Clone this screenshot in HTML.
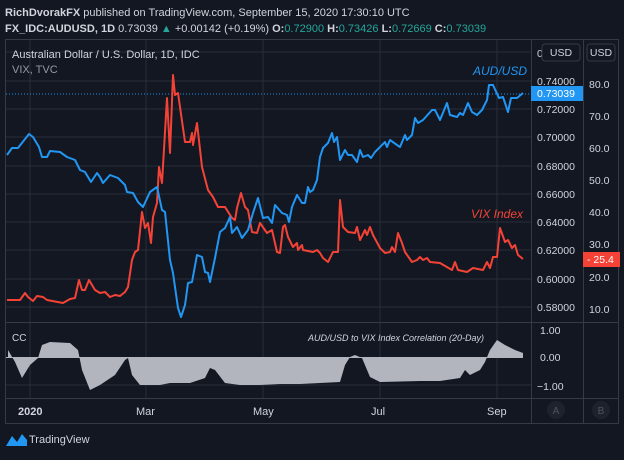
<!DOCTYPE html><html><head><style>
body{margin:0;background:#131722;width:624px;height:455px;overflow:hidden;font-family:"Liberation Sans",sans-serif}
</style></head><body>
<svg width="624" height="455" xmlns="http://www.w3.org/2000/svg" font-family="Liberation Sans, sans-serif">
<rect width="624" height="455" fill="#131722"/>
<text x="5" y="16" font-size="11" fill="#d1d4dc"><tspan font-weight="bold">RichDvorakFX</tspan> published on TradingView.com, September 15, 2020 17:30:10 UTC</text>
<text x="5" y="32" font-size="11" fill="#d1d4dc"><tspan font-weight="bold">FX_IDC:AUDUSD, 1D</tspan> 0.73039 <tspan fill="#26a69a">▲</tspan> +0.00142 (+0.19%) <tspan font-weight="bold">O:</tspan><tspan fill="#26a69a">0.72900</tspan> <tspan font-weight="bold">H:</tspan><tspan fill="#26a69a">0.73426</tspan> <tspan font-weight="bold">L:</tspan><tspan fill="#26a69a">0.72669</tspan> <tspan font-weight="bold">C:</tspan><tspan fill="#26a69a">0.73039</tspan></text>
<rect x="5.5" y="39.5" width="613" height="384" fill="none" stroke="#363a45"/>
<g stroke="#2a2e39" stroke-width="1">
<line x1="30" y1="40" x2="30" y2="398"/><line x1="146" y1="40" x2="146" y2="398"/><line x1="263" y1="40" x2="263" y2="398"/><line x1="380" y1="40" x2="380" y2="398"/><line x1="497" y1="40" x2="497" y2="398"/>
<line x1="6" y1="81" x2="531" y2="81"/><line x1="6" y1="109" x2="531" y2="109"/><line x1="6" y1="137" x2="531" y2="137"/><line x1="6" y1="166" x2="531" y2="166"/><line x1="6" y1="194" x2="531" y2="194"/><line x1="6" y1="222" x2="531" y2="222"/><line x1="6" y1="250" x2="531" y2="250"/><line x1="6" y1="279" x2="531" y2="279"/><line x1="6" y1="307" x2="531" y2="307"/><line x1="6" y1="52" x2="531" y2="52"/>
<line x1="6" y1="385" x2="531" y2="385"/>
</g>
<line x1="531.5" y1="40" x2="531.5" y2="423" stroke="#363a45"/>
<line x1="583.5" y1="40" x2="583.5" y2="423" stroke="#363a45"/>
<line x1="6" y1="322.5" x2="618" y2="322.5" stroke="#363a45"/>
<line x1="6" y1="398.5" x2="618" y2="398.5" stroke="#363a45"/>
<text x="12" y="58" font-size="11" fill="#d1d4dc">Australian Dollar / U.S. Dollar, 1D, IDC</text>
<text x="12" y="73" font-size="11" fill="#9598a1">VIX, TVC</text>
<line x1="6" y1="94" x2="531" y2="94" stroke="#2196f3" stroke-dasharray="1,2"/>
<polyline fill="none" stroke="#f44336" stroke-width="2" stroke-linejoin="round" points="7,300 20,300 25,293 28,297 33,301 37,296 43,297 47,300 63,303 70,299 75,298 79,280 82,290 85,290 89,280 95,290 100,293 105,292 110,297 115,295 120,296 125,292 128,287 132,260 135,252 138,250 142,212 145,228 148,223 151,243 153,217 157,203 159,167 162,183 167,98 170,153 173,75 175,95 178,93 185,142 190,142 192,133 193,145 197,123 202,167 208,190 213,197 218,207 225,207 232,218 235,220 237,208 241,193 245,207 248,210 252,232 257,233 260,223 267,233 272,230 277,252 280,253 283,227 285,225 288,237 293,247 297,243 298,250 302,245 303,250 313,252 317,250 320,253 323,258 328,262 333,252 338,252 340,200 343,227 348,232 355,233 357,227 360,240 365,230 367,235 370,227 373,235 380,248 385,253 390,252 392,247 395,252 398,233 402,243 405,252 412,262 417,260 420,257 423,260 427,258 430,262 440,263 452,270 455,262 458,270 467,272 473,268 483,270 487,262 490,268 493,257 497,257 500,228 505,242 508,240 512,248 515,245 518,255 523,259"/>
<polyline fill="none" stroke="#2196f3" stroke-width="2" stroke-linejoin="round" points="7,155 12,148 18,148 29,134 33,137 39,147 42,157 47,157 50,151 60,152 67,157 75,160 80,170 85,172 91,182 97,173 100,177 103,183 110,175 118,178 125,185 127,192 133,193 138,202 143,207 150,192 157,187 162,210 165,212 170,260 173,273 178,308 181,317 185,305 188,283 192,282 197,255 202,257 205,272 208,273 210,282 215,258 220,232 225,228 230,217 232,233 237,227 242,238 248,230 253,213 258,198 263,218 268,217 272,223 275,205 282,213 287,215 289,222 292,207 297,195 302,203 305,203 308,187 310,192 313,190 317,180 320,157 323,148 328,143 332,133 334,142 337,137 340,160 345,150 348,155 352,155 357,162 360,150 363,157 368,155 371,158 375,152 385,142 387,147 390,140 397,145 400,147 405,135 407,140 412,135 415,118 418,123 423,120 432,110 435,110 440,120 447,103 450,115 457,117 460,113 463,115 468,103 472,112 477,115 482,110 487,100 489,85 493,85 499,98 503,97 508,112 511,98 517,98 523,93"/>
<text x="473" y="75" font-size="12" font-style="italic" fill="#2196f3">AUD/USD</text>
<text x="471" y="218" font-size="12" font-style="italic" fill="#f44336">VIX Index</text>
<polygon fill="#b2b5be" points="8,357 8,350 15,362 22,378 30,365 38,358 42,345 50,342 70,343 78,350 82,370 90,390 100,385 115,375 125,360 128,358 132,375 140,385 160,385 170,383 190,383 205,378 210,368 215,370 225,383 240,385 260,385 280,384 300,384 320,383 340,382 345,365 350,357 355,355 362,358 370,377 380,382 420,381 440,381 460,378 465,370 470,375 480,370 485,362 490,350 497,340 505,345 515,350 523,353 523,357"/>
<line x1="6" y1="357.5" x2="523" y2="357.5" stroke="#b2b5be"/>
<text x="12" y="341" font-size="10" fill="#d1d4dc">CC</text>
<text x="484" y="341" font-size="9" font-style="italic" text-anchor="end" fill="#d1d4dc">AUD/USD to VIX Index Correlation (20-Day)</text>
<g font-size="11" fill="#d1d4dc">
<text x="18" y="415" font-weight="bold">2020</text><text x="136" y="415">Mar</text><text x="253" y="415">May</text><text x="371" y="415">Jul</text><text x="487" y="415">Sep</text>
</g>
<g font-size="10.5" fill="#d1d4dc">
<text x="537" y="85">0.74000</text><text x="537" y="113">0.72000</text><text x="537" y="141">0.70000</text><text x="537" y="170">0.68000</text><text x="537" y="198">0.66000</text><text x="537" y="226">0.64000</text><text x="537" y="254">0.62000</text><text x="537" y="283">0.60000</text><text x="537" y="311">0.58000</text>
<text x="589" y="88">80.0</text><text x="589" y="120">70.0</text><text x="589" y="152">60.0</text><text x="589" y="184">50.0</text><text x="589" y="216">40.0</text><text x="589" y="248">30.0</text><text x="589" y="281">20.0</text><text x="589" y="313">10.0</text>
<text x="540" y="334">1.00</text><text x="540" y="361">0.00</text><text x="537" y="390">−1.00</text>
<text x="537" y="57">0</text>
</g>
<rect x="542" y="44" width="38" height="17" rx="3" fill="#131722" stroke="#363a45"/><text x="561" y="56" font-size="10.5" fill="#d1d4dc" text-anchor="middle">USD</text>
<rect x="587" y="44" width="28" height="17" rx="3" fill="#131722" stroke="#363a45"/><text x="601" y="56" font-size="10.5" fill="#d1d4dc" text-anchor="middle">USD</text>
<rect x="531" y="86" width="52" height="15" fill="#2196f3"/><text x="537" y="97" font-size="10.5" fill="#fff">0.73039</text>
<rect x="583" y="252" width="37" height="15" fill="#f44336"/><text x="587" y="263" font-size="10.5" fill="#fff">- 25.4</text>
<circle cx="556" cy="410" r="9" fill="#1e222d"/><text x="556" y="414" font-size="10" fill="#50535e" text-anchor="middle">A</text>
<circle cx="601" cy="410" r="9" fill="#1e222d"/><text x="601" y="414" font-size="10" fill="#50535e" text-anchor="middle">B</text>
<path d="M6,446 L12,436 L17,442 L22,434 L27,440 L27,446 Z" fill="#2196f3"/>
<text x="29" y="443" font-size="11" fill="#d1d4dc">TradingView</text>
</svg>
</body></html>
